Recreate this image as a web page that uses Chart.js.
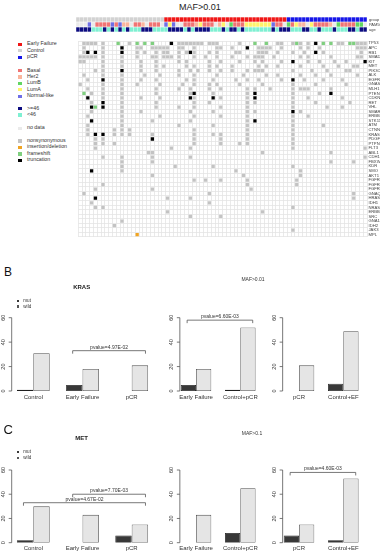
<!DOCTYPE html>
<html>
<head>
<meta charset="utf-8">
<script src="https://cdn.jsdelivr.net/npm/chart.js@4.4.1/dist/chart.umd.min.js"></script>
<style>
  body { margin: 0; background: #fff; }
  #fig { position: relative; width: 380px; height: 556px; overflow: hidden; font-family: "Liberation Sans", Arial, sans-serif; color: #333; }
  #fig canvas { position: absolute; }
  .t { position: absolute; white-space: nowrap; line-height: 1; transform: translateY(-50%); }
  .c { transform: translate(-50%, -50%); }
  .sw { position: absolute; width: 4px; height: 3.5px; }
</style>
</head>
<body>
<div id="fig">
  <canvas id="anno" width="304" height="15" style="left:76px;top:17px"></canvas>
  <canvas id="heat" width="304" height="204" style="left:76px;top:37px"></canvas>
  <canvas id="b1" width="165" height="125" style="left:0;top:280px"></canvas>
  <canvas id="b2" width="105" height="125" style="left:165px;top:280px"></canvas>
  <canvas id="b3" width="110" height="125" style="left:270px;top:280px"></canvas>
  <canvas id="c1" width="165" height="126" style="left:0;top:430px"></canvas>
  <canvas id="c2" width="105" height="126" style="left:165px;top:430px"></canvas>
  <canvas id="c3" width="110" height="126" style="left:270px;top:430px"></canvas>
</div>
<script>
// ---------- panel A data ----------
const sampleIds = Array.from({ length: 76 }, (_, i) => 'S' + (i + 1));

// C = Control, E = Early Failure, P = pCR
const groupTrack = 'CCCCCCCCCC' + 'CCCCCCCCCC' + 'CCCEEEEEEE' + 'EEEEEEEEEE' + 'EEEEEEEEEE' + 'EEEEEPPPPP' + 'PPPPPPPPPP' + 'PPPPPP';
// B Basal, H Her2, G LumB, Y LumA, N Normal-like, - no data
const pam50Track = '---N-BBBBN' + 'BNHH-BBH-B' + 'BB-NYN--BB' + 'BHYBBB-HY-' + 'GBBBYYYYYY' + 'YNBB-GBYHH' + '-YBBBBH-GB' + 'BBBGG-';
// O = >=46, Y = <46
const ageTrack = 'OOOOYYYOYO' + 'YOYOYYYOOO' + 'YYYYOOOOYO' + 'YOOOOYYYOY' + 'OOYOYYYYYY' + 'YOYOOOYYYO' + 'OYYOYYYOYY' + 'YOOYOO';

const genes = ['TP53', 'APC', 'RB1', 'SMAD4', 'KIT', 'MET', 'PIK3CA', 'ALK', 'EGFR', 'GNAS',
  'MLH1', 'PTEN', 'CDKN2A', 'RET', 'VHL', 'SMARCB1', 'ERBB4', 'STK11', 'ATM', 'CTNNB1',
  'KRAS', 'PDGFRA', 'PTPN11', 'FLT3', 'ABL1', 'CDH1', 'FBXW7', 'KDR', 'SMO', 'AKT1',
  'FGFR1', 'FGFR2', 'FGFR3', 'GNAQ', 'HRAS', 'IDH1', 'NRAS', 'ERBB2', 'SRC', 'GNA11',
  'IDH2', 'JAK3', 'MPL'];

// nonsynonymous sample columns, one list per gene (same order as genes)
const nonsynCols = [
  [1, 2, 3, 4, 6, 13, 26, 27, 28, 29, 30, 31, 32, 34, 35, 36, 42, 52, 53, 56, 58, 60, 68, 69, 73, 74, 75],
  [1, 6, 15, 16, 19, 20, 21, 22, 23, 26, 27, 30, 36, 37, 40, 47, 48, 49, 50, 53, 58, 60, 63, 73, 74, 75],
  [1, 6, 15, 17, 20, 22, 23, 26, 28, 30, 34, 36, 41, 42, 47, 48, 49, 52, 56, 59, 64, 74],
  [0, 1, 2, 3, 4, 6, 11, 15, 19, 20, 22, 23, 24, 26, 30, 33, 36, 40, 44, 46, 47, 48, 51, 58, 60, 66, 73, 74],
  [0, 1, 6, 11, 16, 20, 26, 28, 34, 37, 42, 46, 48, 53, 60, 63, 67, 70],
  [6, 11, 16, 20, 22, 28, 30, 34, 36, 40, 47, 49, 52, 58, 64, 68, 72, 73],
  [4, 6, 16, 20, 26, 29, 31, 34, 37, 40, 44, 46, 47, 48, 56, 61, 65, 70, 71],
  [1, 6, 11, 17, 21, 26, 30, 36, 43, 49, 52, 58, 62, 66, 73],
  [2, 11, 16, 20, 28, 30, 35, 41, 44, 47, 53, 59, 64, 69],
  [0, 6, 11, 15, 21, 27, 30, 34, 36, 42, 48, 56, 62, 70],
  [2, 6, 11, 20, 26, 29, 34, 37, 44, 46, 50, 56, 58, 59, 60, 66],
  [3, 6, 11, 20, 29, 35, 44, 56, 63],
  [6, 11, 16, 21, 30, 37, 44, 56, 60, 69],
  [3, 11, 20, 30, 34, 44, 46, 56, 62, 71],
  [11, 20, 26, 30, 37, 44, 56, 65, 69],
  [3, 11, 16, 29, 35, 44, 46, 58],
  [2, 11, 21, 30, 37, 44, 56, 60],
  [11, 19, 29, 44, 56],
  [2, 11, 26, 35, 44, 56, 64],
  [2, 9, 11, 13, 30, 44, 56],
  [2, 9, 11, 13, 19, 30, 35, 37, 44, 56],
  [4, 6, 30, 37, 44, 56],
  [4, 6, 9, 30, 37, 42, 44, 56],
  [4, 24, 29, 56, 75],
  [18, 19, 48, 66],
  [6, 11, 19, 29, 75],
  [11, 19, 66, 72],
  [11, 25, 35, 56],
  [11, 41, 58],
  [19, 43, 58],
  [30, 33, 37, 44, 57],
  [6, 44, 57],
  [4, 19, 45],
  [1, 34, 72],
  [23, 29, 72],
  [3, 34],
  [4, 6, 56],
  [23, 48],
  [29, 37],
  [11],
  [9],
  [56],
  []
];
// [gene index, sample column]
const truncCells = [[0, 24], [0, 62], [1, 11], [1, 44], [2, 2], [2, 4], [2, 11], [2, 29], [2, 62],
  [4, 56], [4, 75], [6, 11], [8, 6], [8, 56], [11, 30], [11, 46], [11, 66], [12, 2], [12, 29],
  [12, 35], [12, 46], [13, 6], [14, 3], [14, 6], [15, 56], [17, 3], [17, 46], [20, 4], [20, 6],
  [21, 19], [28, 3], [34, 4]];
const frameCells = [[0, 10], [0, 15], [0, 17], [0, 19], [0, 46], [0, 49], [0, 57], [0, 64], [0, 66],
  [0, 71], [0, 72], [11, 1], [14, 4]];
const indelCells = [[42, 15]];

// ---------- panel B / C data ----------
const yTicks = [0, 20, 40, 60];
const krasCats1 = ['Control', 'Early Failure', 'pCR'];
const krasMut1 = [1, 5, 0];
const krasWild1 = [31, 18, 21];
const krasCats2 = ['Early Failure', 'Control+pCR'];
const krasMut2 = [5, 1];
const krasWild2 = [18, 52];
const krasCats3 = ['pCR', 'Control+EF'];
const krasMut3 = [0, 6];
const krasWild3 = [21, 49];

const metCats1 = ['Control', 'Early Failure', 'pCR'];
const metMut1 = [2, 0, 6];
const metWild1 = [30, 23, 15];
const metCats2 = ['Early Failure', 'Control+pCR'];
const metMut2 = [0, 8];
const metWild2 = [23, 45];
const metCats3 = ['pCR', 'Control+EF'];
const metMut3 = [6, 2];
const metWild3 = [15, 53];

// ---------- colours ----------
const groupColors = { C: '#D2D2D2', E: '#F01616', P: '#1616E8' };
const pamColors = { B: '#F07474', H: '#FAB59C', G: '#62D662', Y: '#FFF36A', N: '#6E6EE6', '-': '#EAEAEA' };
const ageColors = { O: '#0C0C80', Y: '#7EF0D2' };
const mutColors = { nonsyn: '#C3C3C3', indel: '#F0A422', frame: '#7FCF7F', trunc: '#000000' };

const fig = document.getElementById('fig');
function text(str, x, y, size, extra) {
  const d = document.createElement('div');
  d.className = 't' + (extra && extra.center ? ' c' : '');
  d.textContent = str;
  d.style.left = x + 'px';
  d.style.top = y + 'px';
  d.style.fontSize = size + 'px';
  if (extra && extra.bold) d.style.fontWeight = 'bold';
  if (extra && extra.color) d.style.color = extra.color;
  fig.appendChild(d);
}
function swatch(x, y, color, w, h, border) {
  const s = document.createElement('div');
  s.className = 'sw';
  s.style.left = x + 'px';
  s.style.top = (y - h / 2) + 'px';
  s.style.width = w + 'px';
  s.style.height = h + 'px';
  s.style.background = color;
  if (border) { s.style.boxSizing = 'border-box'; s.style.border = '0.7px solid ' + border; }
  fig.appendChild(s);
}

// ---------- panel A legend & titles ----------
text('MAF>0.01', 200, 7, 9, { center: true, color: '#222' });
const legendA = [
  ['Early Failure', groupColors.E, 44.3], ['Control', groupColors.C, 50.8], ['pCR', groupColors.P, 57.3],
  ['Basal', pamColors.B, 70.7], ['Her2', pamColors.H, 77], ['LumB', pamColors.G, 83.3],
  ['LumA', pamColors.Y, 89.7], ['Normal-like', pamColors.N, 96.3],
  ['>=46', ageColors.O, 108.7], ['<46', ageColors.Y, 115],
  ['no data', pamColors['-'], 128.3],
  ['nonsynonymous', mutColors.nonsyn, 141], ['insertion/deletion', mutColors.indel, 147.3],
  ['frameshift', mutColors.frame, 154], ['truncation', mutColors.trunc, 160.3]
];
legendA.forEach(([lab, col, y]) => { swatch(18, y, col, 4, 3.4); text(lab, 27, y, 5.3); });

// ---------- annotation tracks ----------
const annoLabels = { id: 'annoLabels', afterDraw(chart) {
  const { ctx, chartArea } = chart;
  const y = chart.scales.y;
  ctx.save();
  ctx.fillStyle = '#444';
  ctx.font = '4px "Liberation Sans"';
  ctx.textBaseline = 'middle';
  ['group', 'PAM50', 'age'].forEach((l, i) => ctx.fillText(l, chartArea.right + 2, y.getPixelForValue(i + 0.5)));
  ctx.restore();
} };
function track(str, colors, row) {
  return {
    data: sampleIds.map(() => [row + 0.06, row + 0.94]),
    backgroundColor: str.split('').map(k => colors[k])
  };
}
new Chart(document.getElementById('anno'), {
  type: 'bar',
  data: { labels: sampleIds, datasets: [track(groupTrack, groupColors, 0), track(pam50Track, pamColors, 1), track(ageTrack, ageColors, 2)] },
  options: {
    responsive: false, animation: false,
    layout: { padding: { right: 13 } },
    plugins: { legend: { display: false }, tooltip: { enabled: false } },
    datasets: { bar: { grouped: false, barPercentage: 0.9, categoryPercentage: 1, borderWidth: 0 } },
    scales: { x: { display: false }, y: { display: false, min: 0, max: 3, reverse: true } }
  },
  plugins: [annoLabels]
});

// ---------- mutation heatmap ----------
function cellsFromRows(rows) {
  const out = [];
  rows.forEach((cs, r) => cs.forEach(c => out.push({ x: sampleIds[c], y: genes[r] })));
  return out;
}
const cellsFromPairs = pairs => pairs.map(([r, c]) => ({ x: sampleIds[c], y: genes[r] }));

new Chart(document.getElementById('heat'), {
  type: 'scatter',
  data: { datasets: [
    { label: 'nonsynonymous', data: cellsFromRows(nonsynCols), backgroundColor: mutColors.nonsyn },
    { label: 'insertion/deletion', data: cellsFromPairs(indelCells), backgroundColor: mutColors.indel },
    { label: 'frameshift', data: cellsFromPairs(frameCells), backgroundColor: mutColors.frame },
    { label: 'truncation', data: cellsFromPairs(truncCells), backgroundColor: mutColors.trunc }
  ] },
  options: {
    responsive: false, animation: false,
    layout: { padding: { top: 4, bottom: 4 } },
    plugins: { legend: { display: false }, tooltip: { enabled: false } },
    elements: { point: { pointStyle: 'rect', radius: 2.3, hoverRadius: 2.3, borderWidth: 0 } },
    scales: {
      x: { type: 'category', labels: sampleIds, offset: true,
        grid: { offset: true, color: '#E4E4E4', lineWidth: 0.8, drawTicks: false },
        border: { display: false }, ticks: { display: false } },
      y: { type: 'category', labels: genes, position: 'right', offset: true,
        grid: { offset: true, color: '#E4E4E4', lineWidth: 0.8, drawTicks: false },
        border: { display: false },
        ticks: { autoSkip: false, padding: 1.5, color: '#444', font: { size: 4.2, family: '"Liberation Sans"' } },
        afterFit(s) { s.width = 13; } }
    }
  }
});

// ---------- bar panels (R barplot look) ----------
function rStyle(gap, brackets) {
  return { id: 'rStyle', afterDraw(chart) {
    const { ctx, chartArea } = chart;
    const xs = chart.scales.x, ys = chart.scales.y;
    const ax = chartArea.left + gap;
    const catW = xs.getPixelForValue(1) - xs.getPixelForValue(0);
    ctx.save();
    ctx.strokeStyle = '#555';
    ctx.lineWidth = 0.8;
    ctx.beginPath();
    ctx.moveTo(ax, ys.getPixelForValue(0));
    ctx.lineTo(ax, ys.getPixelForValue(60));
    yTicks.forEach(v => { const p = ys.getPixelForValue(v); ctx.moveTo(ax, p); ctx.lineTo(ax - 3, p); });
    ctx.stroke();
    ctx.fillStyle = '#333';
    ctx.textAlign = 'center';
    ctx.textBaseline = 'middle';
    ctx.font = '5.5px "Liberation Sans"';
    yTicks.forEach(v => {
      ctx.save();
      ctx.translate(ax - 8, ys.getPixelForValue(v));
      ctx.rotate(-Math.PI / 2);
      ctx.fillText(String(v), 0, 0);
      ctx.restore();
    });
    ctx.font = '6px "Liberation Sans"';
    chart.data.labels.forEach((lab, i) => ctx.fillText(lab, xs.getPixelForValue(i), ys.getPixelForValue(0) + 6));
    ctx.font = '5px "Liberation Sans"';
    brackets.forEach(b => {
      const x1 = xs.getPixelForValue(b.from) - 0.2 * catW;
      const x2 = xs.getPixelForValue(b.to) + 0.28 * catW;
      const py = ys.getPixelForValue(b.y);
      ctx.beginPath();
      ctx.moveTo(x1, py + 3); ctx.lineTo(x1, py); ctx.lineTo(x2, py); ctx.lineTo(x2, py + 3);
      ctx.stroke();
      ctx.fillText(b.text, (x1 + x2) / 2, py - 3.3);
    });
    ctx.restore();
  } };
}
function barPanel(id, cats, mut, wild, box, brackets) {
  new Chart(document.getElementById(id), {
    type: 'bar',
    data: { labels: cats, datasets: [
      { label: 'mut', data: mut, backgroundColor: '#383838', borderColor: '#1e1e1e' },
      { label: 'wild', data: wild, backgroundColor: '#E5E5E5', borderColor: '#505050' }
    ] },
    options: {
      responsive: false, animation: false,
      layout: { padding: { left: box.l, right: box.r, top: box.t, bottom: box.b } },
      plugins: { legend: { display: false }, tooltip: { enabled: false } },
      datasets: { bar: { categoryPercentage: box.cp, barPercentage: 1, borderWidth: 0.8, borderSkipped: false } },
      scales: { x: { display: false }, y: { display: false, min: 0, max: 60 } }
    },
    plugins: [rStyle(box.gap, brackets)]
  });
}

const boxB1 = { l: 8.7, r: 8.7, t: 37.7, b: 14, cp: 0.667, gap: 3 };
const boxB2 = { l: 8.85, r: 7.55, t: 37.7, b: 14, cp: 0.69, gap: 6 };
const boxB3 = { l: 6.85, r: 14.55, t: 37.7, b: 14, cp: 0.69, gap: 5.8 };
const boxC1 = { l: 8.7, r: 8.7, t: 40, b: 13.3, cp: 0.667, gap: 3 };
const boxC2 = { l: 8.85, r: 7.55, t: 40, b: 13.3, cp: 0.69, gap: 6 };
const boxC3 = { l: 6.85, r: 14.55, t: 40, b: 13.3, cp: 0.69, gap: 5.8 };

barPanel('b1', krasCats1, krasMut1, krasWild1, boxB1, [{ from: 1, to: 2, y: 33, text: 'pvalue=4.97E-02' }]);
barPanel('b2', krasCats2, krasMut2, krasWild2, boxB2, [{ from: 0, to: 1, y: 58, text: 'pvalue=6.60E-03' }]);
barPanel('b3', krasCats3, krasMut3, krasWild3, boxB3, []);
barPanel('c1', metCats1, metMut1, metWild1, boxC1, [
  { from: 1, to: 2, y: 40, text: 'pvalue=7.70E-03' },
  { from: 0, to: 2, y: 33, text: 'pvalue=4.67E-02' }]);
barPanel('c2', metCats2, metMut2, metWild2, boxC2, []);
barPanel('c3', metCats3, metMut3, metWild3, boxC3, [{ from: 0, to: 1, y: 58, text: 'pvalue=4.60E-03' }]);

// ---------- panel B / C labels ----------
text('B', 4, 271.7, 12, { color: '#111' });
text('MAF>0.01', 253, 278.5, 5, { center: true });
text('KRAS', 81.7, 286.7, 6, { center: true, bold: true, color: '#222' });
swatch(16.7, 301, '#383838', 2.6, 2.6);
text('mut', 23.3, 301, 4.6);
swatch(16.7, 306.5, '#fff', 2.6, 2.6, '#555');
text('wild', 23.3, 306.5, 4.6);

text('C', 3.5, 429, 13, { color: '#111' });
text('MAF>0.1', 252, 433.3, 5, { center: true });
text('MET', 81.7, 438.3, 6, { center: true, bold: true, color: '#222' });
swatch(16.7, 452, '#383838', 2.6, 2.6);
text('mut', 23.3, 452, 4.6);
swatch(16.7, 457.8, '#fff', 2.6, 2.6, '#555');
text('wild', 23.3, 457.8, 4.6);
</script>
</body>
</html>
